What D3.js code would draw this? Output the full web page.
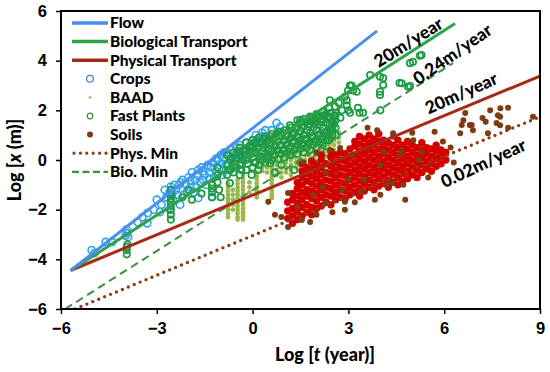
<!DOCTYPE html>
<html>
<head>
<meta charset="utf-8">
<script src="https://cdn.jsdelivr.net/npm/d3@7"></script>
<style>
  html, body { margin: 0; padding: 0; background: #fff; }
  svg { display: block; font-family: Lato, "Open Sans", sans-serif; font-weight: 900; }
</style>
</head>
<body>
<div id="chart"></div>
<script>
// Reference lines, [log t, log x] end points
const flowLine = [[-5.7, -4.45], [3.9, 5.2]];
const bioLine = [[-5.7, -4.45], [6.34, 5.5]];
const physLine = [[-5.7, -4.45], [9, 3.38]];
const physMinLine = [[-5.56, -6], [9, 1.74]];
const bioMinLine = [[-5.87, -6], [6.28, 3.9]];

const xTicks = [-6, -3, 0, 3, 6, 9];
const yTicks = [-6, -4, -2, 0, 2, 4, 6];

// Crops (open circles)
const crops = [
  [-5.04, -3.63], [-4.95, -3.75], [-4.6, -3.3], [-4.4, -3.3], [-3.95, -2.8], [-3.93, -2.95], [-3.9, -3.1],
  [-3.98, -3.05], [-3.6, -2.5], [-3.45, -2.3], [-3.3, -2.55], [-3.28, -2.13], [-3.1, -2.0], [-3.0, -1.6],
  [-2.9, -2.1], [-2.85, -1.8], [-2.75, -1.2], [-2.7, -1.5], [-2.6, -1.3], [-2.56, -1.07], [-2.55, -1.2],
  [-2.52, -1.4], [-2.5, -1.6], [-2.59, -2.0], [-2.4, -1.2], [-2.3, -1.0], [-2.27, -1.8], [-2.2, -0.8],
  [-2.15, -1.4], [-2.1, -0.95], [-2.0, -0.7], [-1.95, -1.1], [-1.9, -0.5], [-1.85, -1.3], [-1.8, -0.8],
  [-1.7, -1.53], [-1.7, -0.4], [-1.65, -0.9], [-1.6, -0.3], [-1.5, -0.6], [-1.45, -1.0], [-1.4, -0.2],
  [-1.35, -0.5], [-1.27, -1.49], [-1.25, -0.1], [-1.2, -0.7], [-1.1, 0.0], [-1.05, -0.35], [-1.0, 0.2],
  [-0.95, -0.6], [-0.9, 0.1], [-0.85, -0.2], [-0.8, 0.3], [-0.7, 0.0], [-0.65, 0.4], [-0.6, -0.3],
  [-0.55, 0.2], [-0.5, 0.5], [-0.45, 0.1], [-0.4, 0.6], [-0.35, -0.1], [-0.3, 0.35], [-0.2, 0.7],
  [-0.15, 0.2], [-0.1, 0.5], [0.0, 0.8], [0.05, 0.3], [0.1, 1.0], [0.2, 0.6], [0.3, 1.1], [0.45, 0.9],
  [0.6, 1.2], [0.75, 1.49], [0.86, 1.33],
  [-2.45, -1.0], [-2.35, -1.4], [-2.25, -0.9], [-2.05, -1.25], [-1.95, -0.85], [-1.75, -1.1], [-1.75, -0.6],
  [-1.55, -0.8], [-1.55, -0.45], [-1.35, -0.75], [-1.3, -0.3], [-1.15, -0.45], [-1.15, 0.05], [-0.95, -0.15],
  [-0.9, 0.3], [-0.75, -0.4], [-0.75, 0.15], [-0.55, -0.05], [-0.5, 0.3], [-0.35, 0.15], [-0.25, 0.45],
  [-0.05, 0.65], [0.15, 0.8], [0.25, 0.95], [0.4, 1.2]
];

// BAAD: columns of [log t, [log x ...]]
const baad = [
  [-0.77, [-0.95, -1.1, -1.25, -1.4, -1.55, -1.7, -1.85, -2.0, -2.15, -2.3]],
  [-0.62, [-1.2, -1.4, -1.6, -1.8, -2.0]],
  [-0.47, [-0.8, -0.95, -1.1, -1.25, -1.4, -1.55, -1.7, -1.85, -2.0, -2.15, -2.3, -2.4]],
  [-0.3, [-0.6, -0.75, -0.9, -1.05, -1.2, -1.35, -1.5, -1.65, -1.8, -1.95, -2.1, -2.25, -2.4]],
  [-0.1, [-0.9, -1.1, -1.3]],
  [0.13, [-0.5, -0.65, -0.8, -0.95, -1.1, -1.25, -1.4, -1.5]],
  [0.3, [-0.45, -0.3, -0.15, 0.0]],
  [0.45, [-0.5, -0.3, -0.1, 0.1, 0.25]],
  [0.6, [-0.2, -0.35, -0.5, -0.65, -0.8, -0.95, -1.1, -1.25, -1.4, -1.53, 0.0, 0.2]],
  [0.75, [-0.6, -0.4, -0.2, 0.0, 0.2, 0.35]],
  [0.9, [-0.7, -0.5, -0.3, -0.1, 0.1, 0.3]],
  [1.05, [-0.5, -0.3, -0.1, 0.1, 0.3, 0.45]],
  [1.2, [-0.6, -0.4, -0.2, 0.0, 0.2, 0.4]],
  [1.35, [-0.3, -0.1, 0.1, 0.3, 0.5]],
  [1.5, [-0.35, -0.15, 0.05, 0.25, 0.45, 0.6]],
  [1.65, [-0.2, 0.0, 0.2, 0.4, 0.6]],
  [1.8, [-0.1, 0.1, 0.3, 0.5, 0.7]],
  [1.95, [-0.05, 0.15, 0.35, 0.55, 0.75]],
  [2.1, [0.0, 0.2, 0.4, 0.6, 0.8]],
  [2.25, [0.1, 0.3, 0.5, 0.7, 0.9]],
  [2.4, [0.2, 0.4, 0.6, 0.8, 1.0]],
  [2.55, [0.4, 0.6, 0.8, 1.0, 1.2]],
  [2.7, [0.7, 0.9, 1.1]]
];

// Fast Plants (open circles)
const fastPlants = [
  [-3.94, -3.5], [-3.94, -3.62], [-3.94, -3.8], [-3.92, -3.4],
  [-2.56, -1.2], [-2.56, -1.4], [-2.56, -1.55], [-2.56, -1.7], [-2.56, -1.85], [-2.56, -2.0], [-2.56, -2.2], [-2.56, -2.4],
  [-2.2, -1.5], [-2.0, -1.2], [-1.9, -1.6], [-1.6, -1.35],
  [-1.27, -1.0], [-1.27, -1.15], [-1.27, -1.3], [-1.27, -1.5],
  [-1.1, -0.3], [-1.1, -0.6], [-1.1, -0.9], [-1.05, -1.2], [-1.0, -1.5], [-0.71, -0.93], [-0.03, -0.6],
  [0.17, -0.4], [0.55, -0.13], [0.7, -0.5], [0.9, -0.2], [1.17, 0.2], [1.3, -0.4], [1.5, -0.1], [2.0, 0.1], [2.3, 0.3],
  // dense cloud
  [-0.8, -0.6], [-0.8, -0.2], [-0.8, 0.2], [-0.7, -0.4], [-0.7, 0.0],
  [-0.6, -0.5], [-0.6, -0.1], [-0.6, 0.3], [-0.5, -0.3], [-0.5, 0.1],
  [-0.4, -0.6], [-0.4, -0.2], [-0.4, 0.2], [-0.4, 0.5], [-0.3, 0.0], [-0.3, 0.35],
  [-0.2, -0.4], [-0.2, 0.0], [-0.2, 0.4], [-0.2, 0.7], [-0.1, 0.2], [-0.1, 0.55],
  [0.0, -0.3], [0.0, 0.1], [0.0, 0.5], [0.0, 0.8], [0.1, -0.1], [0.1, 0.3], [0.1, 0.65],
  [0.2, -0.2], [0.2, 0.15], [0.2, 0.5], [0.2, 0.9], [0.3, 0.0], [0.3, 0.35], [0.3, 0.7],
  [0.4, -0.1], [0.4, 0.25], [0.4, 0.6], [0.4, 0.95], [0.5, 0.1], [0.5, 0.45], [0.5, 0.8],
  [0.6, 0.0], [0.6, 0.35], [0.6, 0.7], [0.6, 1.05], [0.7, 0.2], [0.7, 0.55], [0.7, 0.9],
  [0.8, 0.05], [0.8, 0.4], [0.8, 0.75], [0.8, 1.15], [0.9, 0.25], [0.9, 0.6], [0.9, 0.95],
  [1.0, 0.1], [1.0, 0.45], [1.0, 0.8], [1.0, 1.2], [1.1, 0.3], [1.1, 0.65], [1.1, 1.0],
  [1.2, 0.2], [1.2, 0.55], [1.2, 0.9], [1.2, 1.3], [1.3, 0.4], [1.3, 0.75], [1.3, 1.1],
  [1.4, 0.25], [1.4, 0.6], [1.4, 0.95], [1.4, 1.35], [1.4, 1.6], [1.5, 0.45], [1.5, 0.8], [1.5, 1.15], [1.5, 1.5],
  [1.6, 0.3], [1.6, 0.65], [1.6, 1.0], [1.6, 1.4], [1.6, 1.65], [1.7, 0.5], [1.7, 0.85], [1.7, 1.2], [1.7, 1.55],
  [1.8, 0.4], [1.8, 0.75], [1.8, 1.1], [1.8, 1.45], [1.8, 1.75], [1.9, 0.6], [1.9, 0.95], [1.9, 1.3], [1.9, 1.6],
  [2.0, 0.5], [2.0, 0.85], [2.0, 1.2], [2.0, 1.55], [2.0, 1.85], [2.1, 0.7], [2.1, 1.05], [2.1, 1.4], [2.1, 1.75],
  [2.2, 0.6], [2.2, 0.95], [2.2, 1.3], [2.2, 1.65], [2.2, 1.95], [2.3, 0.8], [2.3, 1.15], [2.3, 1.5], [2.3, 1.85],
  [2.4, 0.8], [2.4, 1.1], [2.4, 1.4], [2.4, 1.75], [2.4, 2.1], [2.5, 1.0], [2.5, 1.3], [2.5, 1.6],
  [2.6, 1.0], [2.6, 1.3], [2.6, 1.6], [2.6, 1.9],
  [-0.75, -0.4], [-0.65, 0.1], [-0.55, -0.2], [-0.45, 0.35], [-0.35, -0.4], [-0.25, 0.2], [-0.15, -0.15],
  [-0.05, 0.35], [0.05, -0.1], [0.05, 0.7], [0.15, 0.45], [0.25, 0.75], [0.25, 0.05], [0.35, 0.5], [0.35, 0.85],
  [0.45, 0.15], [0.45, 0.75], [0.55, 0.6], [0.55, 0.95], [0.65, 0.2], [0.65, 0.85], [0.75, 0.4], [0.75, 1.05],
  [0.85, 0.6], [0.85, 0.95], [0.95, 0.4], [0.95, 1.1], [1.05, 0.6], [1.05, 0.95], [1.15, 0.45], [1.15, 1.2],
  [1.25, 0.7], [1.25, 1.05], [1.35, 0.5], [1.35, 1.25], [1.45, 0.9], [1.45, 1.45], [1.55, 0.6], [1.55, 1.3],
  [1.65, 0.85], [1.65, 1.55], [1.75, 0.65], [1.75, 1.35], [1.85, 0.95], [1.85, 1.6], [1.95, 0.75], [1.95, 1.45],
  [2.05, 1.0], [2.05, 1.7], [2.15, 0.85], [2.15, 1.55], [2.25, 1.1], [2.25, 1.8], [2.35, 1.0], [2.35, 1.65],
  [2.45, 1.25], [2.45, 1.9], [2.55, 1.45], [2.55, 1.75],
  // sparse upper
  [5.29, 4.23], [5.02, 3.95], [4.93, 3.9], [5.24, 4.2], [4.67, 3.09], [4.87, 2.95], [4.6, 3.1], [4.93, 2.98],
  [4.09, 3.3], [4.09, 3.02], [3.99, 2.75], [3.99, 2.62], [3.99, 3.35], [3.68, 3.42], [3.46, 1.9], [3.3, 2.1],
  [4.0, 2.0], [3.1, 3.0], [3.15, 2.8], [3.26, 2.75], [2.99, 2.8], [2.89, 2.55], [2.95, 2.4], [2.95, 2.2],
  [3.0, 2.0], [3.05, 1.9], [2.42, 2.4], [2.58, 2.15], [3.05, 3.0], [2.58, 1.8], [2.37, 1.75], [1.8, 1.69],
  [1.49, 1.61], [1.17, 1.4], [0.86, 1.14], [2.7, 2.3], [2.8, 2.0], [2.75, 1.7], [3.35, 1.9]
];

// Soils, dense core: columns of [log t, [log x ...]]
const soilsCore = [
  [1.1, [-2.35, -2.05, -1.7]],
  [1.25, [-2.55, -2.25, -1.95, -1.6, -1.35]],
  [1.4, [-2.4, -2.1, -1.75, -1.45, -1.15, -0.9]],
  [1.55, [-2.25, -1.9, -1.6, -1.3, -1.0, -0.7, -0.45, -0.15]],
  [1.7, [-2.1, -1.8, -1.45, -1.2, -0.85, -0.55, -0.3]],
  [1.85, [-2.2, -1.9, -1.55, -1.25, -0.95, -0.65, -0.35, -0.05]],
  [2.0, [-1.95, -1.65, -1.35, -1.05, -0.75, -0.45, -0.2]],
  [2.15, [-1.85, -1.5, -1.2, -0.9, -0.6, -0.3, 0.0, 0.2]],
  [2.3, [-1.7, -1.4, -1.1, -0.8, -0.5, -0.15]],
  [2.45, [-1.8, -1.45, -1.15, -0.85, -0.55, -0.25, 0.1, 0.35]],
  [2.6, [-1.6, -1.3, -1.0, -0.7, -0.4, -0.1, 0.2]],
  [2.75, [-1.5, -1.2, -0.9, -0.6, -0.3, 0.0, 0.3]],
  [2.9, [-1.55, -1.25, -0.95, -0.65, -0.35, -0.05, 0.25]],
  [3.05, [-1.4, -1.1, -0.8, -0.5, -0.2, 0.1, 0.45]],
  [3.2, [-1.3, -1.0, -0.7, -0.4, -0.1, 0.2, 0.55, 0.75]],
  [3.35, [-1.45, -1.15, -0.85, -0.55, -0.25, 0.05, 0.35, 0.65, 0.95]],
  [3.5, [-1.25, -0.95, -0.65, -0.35, -0.05, 0.25, 0.55, 0.85]],
  [3.65, [-1.1, -0.8, -0.5, -0.2, 0.1, 0.4, 0.7, 1.0]],
  [3.8, [-1.2, -0.9, -0.6, -0.3, 0.0, 0.3, 0.6, 0.85]],
  [3.95, [-1.05, -0.75, -0.45, -0.15, 0.15, 0.45, 0.75, 1.05]],
  [4.1, [-0.95, -0.65, -0.35, -0.05, 0.25, 0.55, 0.8]],
  [4.25, [-1.1, -0.8, -0.5, -0.2, 0.1, 0.4, 0.7]],
  [4.4, [-0.9, -0.6, -0.3, 0.0, 0.3, 0.6]],
  [4.55, [-1.0, -0.7, -0.4, -0.1, 0.2, 0.5, 0.8]],
  [4.7, [-0.85, -0.55, -0.25, 0.05, 0.35, 0.6]],
  [4.85, [-0.75, -0.45, -0.15, 0.15, 0.45, 0.75]],
  [5.0, [-0.6, -0.3, 0.0, 0.3, 0.6]],
  [5.15, [-0.7, -0.4, -0.1, 0.2, 0.5]],
  [5.3, [-0.5, -0.2, 0.1, 0.4, 0.7]],
  [5.45, [-0.35, -0.05, 0.25, 0.5]],
  [5.6, [-0.45, -0.15, 0.15, 0.45]],
  [5.75, [-0.25, 0.05, 0.35, 0.6]],
  [5.9, [-0.15, 0.15, 0.4]],
  [6.05, [0.0, 0.3]]
];

// Soils, scattered
const soils = [
  [0.49, -1.68], [0.7, -2.2], [0.9, -2.3], [1.11, -2.7], [1.11, -1.33], [1.54, -2.42], [1.8, -2.5], [2.0, -2.2],
  [2.27, -1.75], [2.5, -2.1], [2.89, -2.0], [2.89, -1.68], [3.2, -1.7], [3.42, -1.28], [3.83, -1.6], [4.0, -1.4],
  [4.2, -1.0], [4.4, -0.93], [4.72, -1.0], [4.78, -1.6], [5.5, -0.7], [2.2, -1.1], [3.0, -0.8], [1.6, -0.1],
  [2.0, 0.3], [2.42, 0.4], [2.74, 0.48], [3.6, 1.3], [3.9, 1.2], [4.1, 0.3], [4.4, 1.08], [4.4, 0.94], [4.67, 0.4],
  [5.0, 1.1], [5.03, 0.8], [5.2, 0.0], [5.7, 1.14], [5.96, 0.74], [6.2, 0.5], [6.3, -0.1], [6.5, 1.08],
  [6.55, 1.41], [6.6, 1.6], [6.66, 1.89], [6.8, 1.41], [6.86, 1.41], [6.9, 1.2], [7.2, 1.69], [7.3, 1.54],
  [7.37, 1.08], [7.44, 2.0], [7.64, 1.49], [7.68, 1.8], [7.75, 1.74], [7.75, 1.4], [7.76, 2.08], [8.0, 2.1],
  [8.0, 1.3], [8.78, 1.74], [2.3, -0.5], [3.5, -0.8], [4.6, 0.2], [5.3, 0.3], [2.8, -1.2], [1.4, -1.9],
  [3.1, 0.2], [4.0, -0.2], [1.9, -1.4]
];

const annotations = [
  { t: 4.87, v: 4.75, angle: -32, text: '20m/year' },
  { t: 6.25, v: 4.27, angle: -35, text: '0.24m/year' },
  { t: 6.53, v: 2.70, angle: -24, text: '20m/year' },
  { t: 7.22, v: -0.12, angle: -25, text: '0.02m/year' }
];

const margin = { top: 11, right: 10, bottom: 63, left: 61 };
const W = 550, H = 372;
const width = W - margin.left - margin.right;
const height = H - margin.top - margin.bottom;

const svg = d3.select('#chart').append('svg')
  .attr('width', W)
  .attr('height', H);

const g = svg.append('g')
  .attr('transform', `translate(${margin.left},${margin.top})`);

const x = d3.scaleLinear().domain([-6, 9]).range([0, width]);
const y = d3.scaleLinear().domain([-6, 6]).range([height, 0]);

g.append('clipPath').attr('id', 'clip')
  .append('rect').attr('width', width).attr('height', height);

const plot = g.append('g').attr('clip-path', 'url(#clip)');

const flat = cols => cols.flatMap(([t, ys]) => ys.map(v => [t, v]));

// Crops
plot.append('g').selectAll('circle')
  .data(crops).enter().append('circle')
  .attr('cx', d => x(d[0])).attr('cy', d => y(d[1]))
  .attr('r', 3.6)
  .attr('fill', 'none')
  .attr('stroke', '#2ea2ec')
  .attr('stroke-width', 1.6);

// BAAD
plot.append('g').selectAll('circle')
  .data(flat(baad)).enter().append('circle')
  .attr('cx', d => x(d[0])).attr('cy', d => y(d[1]))
  .attr('r', 2.4)
  .attr('fill', '#98b84c');

// Fast plants
plot.append('g').selectAll('circle')
  .data(fastPlants).enter().append('circle')
  .attr('cx', d => x(d[0])).attr('cy', d => y(d[1]))
  .attr('r', 3.2)
  .attr('fill', 'none')
  .attr('stroke', '#1e9a45')
  .attr('stroke-width', 1.7);

// Soils
plot.append('g').selectAll('circle')
  .data(flat(soilsCore)).enter().append('circle')
  .attr('cx', d => x(d[0])).attr('cy', d => y(d[1]))
  .attr('r', 3.7)
  .attr('fill', '#d40000');

plot.append('g').selectAll('circle')
  .data(soils).enter().append('circle')
  .attr('cx', d => x(d[0])).attr('cy', d => y(d[1]))
  .attr('r', 3)
  .attr('fill', '#7e3c12');

// Lines
const line = d3.line().x(d => x(d[0])).y(d => y(d[1]));
const lines = [
  { data: physMinLine, color: '#8a3c12', w: 3.4, dash: '0 6.4', cap: 'round' },
  { data: bioMinLine, color: '#3c8f40', w: 2, dash: '8 5', cap: 'butt' },
  { data: physLine, color: '#a72a14', w: 3, dash: null, cap: 'butt' },
  { data: bioLine, color: '#2ea34a', w: 3, dash: null, cap: 'butt' },
  { data: flowLine, color: '#4a8ff0', w: 3, dash: null, cap: 'butt' }
];
lines.forEach(l => {
  plot.append('path')
    .attr('d', line(l.data))
    .attr('fill', 'none')
    .attr('stroke', l.color)
    .attr('stroke-width', l.w)
    .attr('stroke-dasharray', l.dash)
    .attr('stroke-linecap', l.cap);
});

// Axes
const xAxis = g.append('g')
  .attr('transform', `translate(0,${height})`)
  .call(d3.axisBottom(x).tickValues(xTicks).tickSize(5).tickPadding(8));
const yAxis = g.append('g')
  .call(d3.axisLeft(y).tickValues(yTicks).tickSize(5).tickPadding(8));
[xAxis, yAxis].forEach(a => {
  a.select('.domain').remove();
  a.selectAll('line').attr('stroke', '#000').attr('stroke-width', 1.5);
  a.selectAll('text').attr('fill', '#000').style('font-size', '16.5px').style('font-weight', '900');
});
yAxis.selectAll('text').attr('dx', '-1');

g.append('rect')
  .attr('width', width).attr('height', height)
  .attr('fill', 'none')
  .attr('stroke', '#000')
  .attr('stroke-width', 2);

// Axis titles
svg.append('text')
  .attr('x', 325).attr('y', 361)
  .attr('text-anchor', 'middle')
  .style('font-size', '18px')
  .html('Log [<tspan font-style="italic">t</tspan> (year)]');

svg.append('text')
  .attr('transform', 'translate(21,160) rotate(-90)')
  .attr('text-anchor', 'middle')
  .style('font-size', '18px')
  .html('Log [<tspan font-style="italic">x</tspan> (m)]');

// Slope annotations
g.selectAll('.note')
  .data(annotations).enter().append('text')
  .attr('class', 'note')
  .attr('transform', d => `translate(${x(d.t)},${y(d.v)}) rotate(${d.angle})`)
  .attr('text-anchor', 'middle')
  .attr('dominant-baseline', 'central')
  .style('font-size', '17.5px')
  .text(d => d.text);

// Legend
const legendItems = [
  { label: 'Flow', type: 'line', color: '#4a8ff0' },
  { label: 'Biological Transport', type: 'line', color: '#2ea34a' },
  { label: 'Physical Transport', type: 'line', color: '#a72a14' },
  { label: 'Crops', type: 'open', color: '#4a78d0', r: 3.4 },
  { label: 'BAAD', type: 'dot', color: '#a8a040', r: 1.2 },
  { label: 'Fast Plants', type: 'open', color: '#3a8a3a', r: 2.8 },
  { label: 'Soils', type: 'dot', color: '#7e3c12', r: 3 },
  { label: 'Phys. Min', type: 'dotted', color: '#8a3c12' },
  { label: 'Bio. Min', type: 'dashed', color: '#3c8f40' }
];

const legend = svg.append('g').attr('transform', 'translate(72,23)');
const rows = legend.selectAll('g')
  .data(legendItems).enter().append('g')
  .attr('transform', (d, i) => `translate(0,${i * 18.6})`);

rows.each(function (d) {
  const row = d3.select(this);
  if (d.type === 'line') {
    row.append('line').attr('x1', 0).attr('x2', 36)
      .attr('stroke', d.color).attr('stroke-width', 3.5);
  } else if (d.type === 'dotted') {
    row.append('line').attr('x1', 2).attr('x2', 36)
      .attr('stroke', d.color).attr('stroke-width', 3.2)
      .attr('stroke-linecap', 'round').attr('stroke-dasharray', '0 6.4');
  } else if (d.type === 'dashed') {
    row.append('line').attr('x1', 0).attr('x2', 36)
      .attr('stroke', d.color).attr('stroke-width', 2.2)
      .attr('stroke-dasharray', '7 3.5');
  } else {
    row.append('circle').attr('cx', 18).attr('r', d.r)
      .attr('fill', d.type === 'dot' ? d.color : 'none')
      .attr('stroke', d.type === 'open' ? d.color : 'none')
      .attr('stroke-width', 1.2);
  }
  row.append('text')
    .attr('x', 38).attr('dy', '0.35em')
    .style('font-size', '15.5px')
    .text(d.label);
});
</script>
</body>
</html>
